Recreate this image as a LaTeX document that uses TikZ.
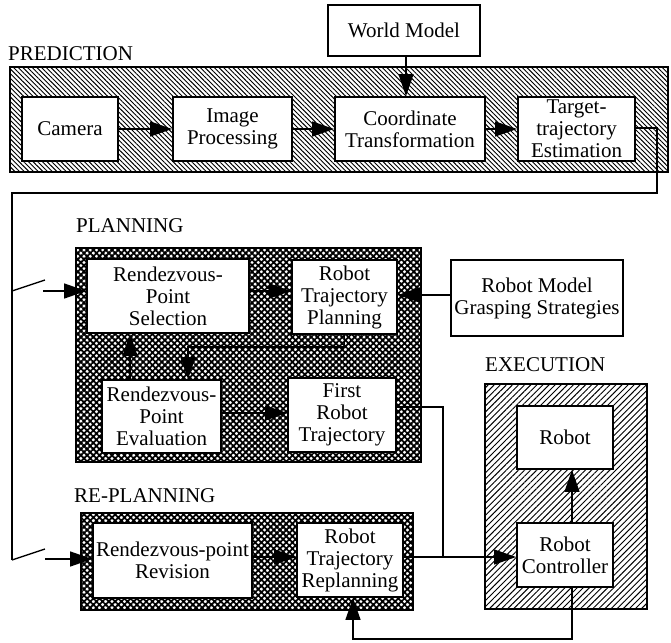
\documentclass[tikz,border=0pt]{standalone}
\usepackage{fontspec}
\setmainfont{Liberation Serif}
\usetikzlibrary{arrows.meta,patterns.meta}
\begin{document}
\begin{tikzpicture}[x=1pt,y=-1pt,
  txt/.style={font=\fontsize{21}{22}\selectfont},
  box/.style={txt,draw,line width=1.8pt,fill=white,inner sep=0pt,align=center},
  frame/.style={draw,line width=1.8pt,inner sep=0pt},
  diag/.style={frame,pattern={Lines[angle=-45,distance=3.3pt,line width=0.95pt]}},
  rdiag/.style={frame,pattern={Lines[angle=45,distance=4.3pt,line width=0.95pt]}},
  xhatch/.style={frame,pattern={Hatch[angle=45,distance=4.4pt,line width=1.8pt]}},
  label/.style={txt,anchor=base west,inner sep=0pt},
  wire/.style={line width=1.3pt},
  arr/.style={wire,-{Triangle[length=22pt,width=15pt]}}]
\useasboundingbox (0,0) rectangle (671,642);

% group frames
\node[diag,minimum width=658pt,minimum height=105pt] (pred) at (339,119.5) {};
\node[xhatch,minimum width=345pt,minimum height=214pt] (plan) at (248.5,355) {};
\node[rdiag,minimum width=162pt,minimum height=225pt] (exec) at (566,496.5) {};
\node[xhatch,minimum width=332pt,minimum height=97pt] (rplan) at (247,561.5) {};

% group titles
\node[label] (tpred) at (8,60) {PREDICTION};
\node[label] (tplan) at (76,232) {PLANNING};
\node[label] (texec) at (485,371) {EXECUTION};
\node[label] (trplan) at (74,502) {RE-PLANNING};

% prediction
\node[box,minimum width=152pt,minimum height=51pt] (wm) at (404,30.5) {World Model};
\node[box,minimum width=96pt,minimum height=64pt] (cam) at (70,129) {Camera};
\node[box,minimum width=119pt,minimum height=64pt] (imp) at (232.5,129) {Image\\Processing};
\node[box,minimum width=150pt,minimum height=64pt] (coord) at (410,129) {Coordinate\\Transformation};
\node[box,minimum width=117pt,minimum height=64pt] (targ) at (576.5,129) {Target-\\trajectory\\Estimation};

% planning
\node[box,minimum width=162pt,minimum height=74pt] (sel) at (168,296) {Rendezvous-\\Point\\Selection};
\node[box,minimum width=105pt,minimum height=74pt] (rtp) at (344.5,297) {Robot\\Trajectory\\Planning};
\node[box,minimum width=119pt,minimum height=73pt] (evalu) at (161.5,416.5) {Rendezvous-\\Point\\Evaluation};
\node[box,minimum width=108pt,minimum height=74pt] (first) at (342,415) {First\\Robot\\Trajectory};
\node[box,minimum width=172pt,minimum height=76pt] (rm) at (537,298) {Robot Model\\Grasping Strategies};

% execution
\node[box,minimum width=96pt,minimum height=63pt] (robot) at (565,437.5) {Robot};
\node[box,minimum width=96pt,minimum height=64pt] (ctrl) at (565,555) {Robot\\Controller};

% re-planning
\node[box,minimum width=159pt,minimum height=75pt] (rev) at (172.5,560.5) {Rendezvous-point\\Revision};
\node[box,minimum width=106pt,minimum height=74pt] (replan) at (350,560) {Robot\\Trajectory\\Replanning};

% prediction chain
\draw[arr] (cam.east |- 0,129) -- (imp.west |- 0,129);
\draw[arr] (imp.east |- 0,129) -- (coord.west |- 0,129);
\draw[arr] (coord.east |- 0,129) -- (targ.west |- 0,129);
\draw[arr] (wm.south -| 406,0) -- (coord.north -| 406,0);

% estimate fed back to the switches
\coordinate (r1) at (657,193);
\coordinate (r2) at (12,193);
\coordinate (sw1) at (12,291);
\coordinate (sw1e) at (45,280);
\coordinate (in1) at (43,291);
\coordinate (sw2) at (12,560);
\coordinate (sw2e) at (45,549);
\coordinate (in2) at (45,559);
\draw[wire] (targ.east |- 0,128) -| (r1) -- (r2) -- (sw2);
\draw[wire] (sw1) -- (sw1e);
\draw[wire] (sw2) -- (sw2e);
\draw[arr] (in1) -- (in1 -| sel.west);
\draw[arr] (in2) -- (in2 -| rev.west);

% planning links
\draw[arr] (sel.east |- 0,291) -- (rtp.west |- 0,291);
\draw[arr] (rm.west |- 0,295) -- (rtp.east |- 0,295);
\coordinate (fb) at (188,347);
\draw[arr] (rtp.south) |- (fb) -- (fb |- evalu.north);
\draw[arr] (evalu.north -| 130,0) -- (sel.south -| 130,0);
\draw[arr] (evalu.east |- 0,413) -- (first.west |- 0,413);

% to the controller
\coordinate (jn) at (443,557);
\draw[wire] (first.east |- 0,407) -| (jn);
\draw[arr] (rev.east |- 0,557) -- (replan.west |- 0,557);
\draw[arr] (replan.east |- 0,557) -- (ctrl.west |- 0,557);
\draw[arr] (ctrl.north -| 572,0) -- (robot.south -| 572,0);

% controller feedback to replanning
\coordinate (b1) at (572,639);
\coordinate (b2) at (353,639);
\draw[arr] (ctrl.south -| b1) -- (b1) -- (b2) -- (b2 |- replan.south);
\end{tikzpicture}
\end{document}
